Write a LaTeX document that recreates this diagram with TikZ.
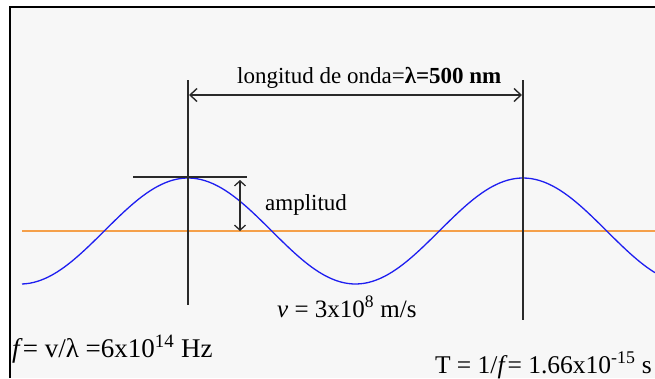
\documentclass[tikz,border=0pt]{standalone}
\usepackage{fontspec}
\setmainfont{Liberation Serif}
\usetikzlibrary{arrows.meta}

\definecolor{bgray}{HTML}{F7F7F7}
\definecolor{waveblue}{HTML}{1E1EF0}
\definecolor{axisorange}{HTML}{F5A04A}
\definecolor{linegray}{HTML}{2A2A2A}

\begin{document}
\begin{tikzpicture}[x=1pt,y=-1pt,>={Straight Barb[length=7pt,width=13pt]},
  txt/.style={inner sep=0pt,anchor=base west,font=\fontsize{25.5}{30}\selectfont},
  lbl/.style={inner sep=0pt,anchor=base west,font=\fontsize{23}{27}\selectfont}]
  \useasboundingbox (0,0) rectangle (655,378);
  \fill[bgray] (10,7) rectangle (655,378);
  \draw[line width=2.2pt] (10,378) -- (10,7) -- (655,7);
  % eje y onda
  \draw[axisorange,line width=1.4pt] (22,231) -- (655,231);
  \draw[waveblue,line width=1.3pt] plot[domain=22:655,samples=160,smooth] (\x,{231-53*cos((\x-188)*1.07463)});
  % lineas verticales
  \coordinate (l1) at (188,80);  \coordinate (l2) at (188,305);
  \coordinate (r1) at (523,80);  \coordinate (r2) at (523,320);
  \draw[linegray,line width=1.6pt] (l1) -- (l2);
  \draw[linegray,line width=1.6pt] (r1) -- (r2);
  % longitud de onda
  \coordinate (wa) at (189,95); \coordinate (wb) at (522,95);
  \draw[<->,linegray,line width=1.4pt] (wa) -- (wb);
  \node[lbl] (lam) at (237,83) {longitud de onda=\textbf{λ=500 nm}};
  % amplitud
  \coordinate (t1) at (133,177); \coordinate (t2) at (247,177);
  \draw[linegray,line width=1.3pt] (t1) -- (t2);
  \coordinate (a1) at (240,180); \coordinate (a2) at (240,231);
  \draw[<->,linegray,line width=1.3pt,>={Straight Barb[length=5pt,width=11pt]}] (a1) -- (a2);
  \node[lbl] (amp) at (265,210) {amplitud};
  % textos
  \node[txt,font=\fontsize{25}{30}\selectfont] (vel) at (277,317) {\textit{v} = 3x10\textsuperscript{8} m/s};
  \node[txt,font=\fontsize{27}{30}\selectfont] (frec) at (12,357) {\textit{f}= v/λ =6x10\textsuperscript{14} Hz};
  \node[txt,anchor=base east] (per) at (652,373) {T = 1/\textit{f}= 1.66x10\textsuperscript{-15} s};
\end{tikzpicture}
\end{document}
